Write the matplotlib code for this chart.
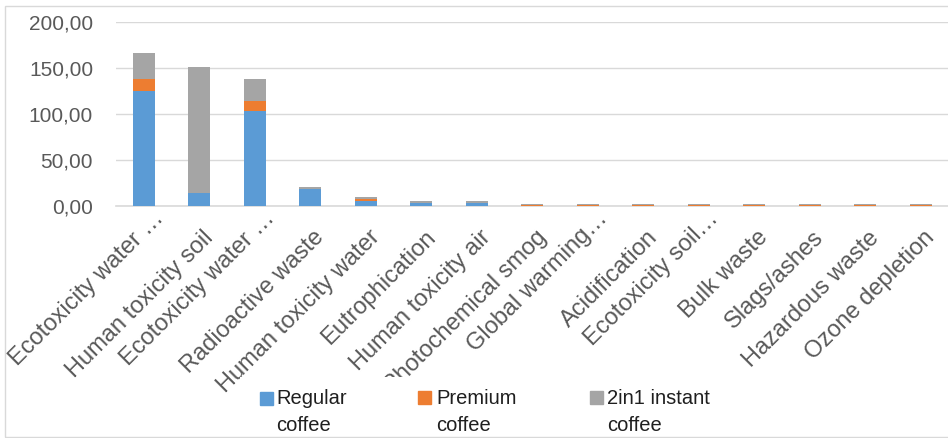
#!/usr/bin/env python3

import matplotlib

matplotlib.use("Agg")

import matplotlib.pyplot as plt
import matplotlib.transforms as mtransforms
from matplotlib.patches import Rectangle
from matplotlib.ticker import FuncFormatter, MultipleLocator
import numpy as np


CATEGORIES = [
    "Ecotoxicity water …",
    "Human toxicity soil",
    "Ecotoxicity water …",
    "Radioactive waste",
    "Human toxicity water",
    "Eutrophication",
    "Human toxicity air",
    "Photochemical smog",
    "Global warming…",
    "Acidification",
    "Ecotoxicity soil…",
    "Bulk waste",
    "Slags/ashes",
    "Hazardous waste",
    "Ozone depletion",
]

REGULAR = [125.0, 13.5, 103.0, 18.0, 4.8, 3.0, 3.0,
           0.2, 0.2, 0.2, 0.2, 0.2, 0.2, 0.2, 0.2]
PREMIUM = [13.0, 0.3, 11.0, 0.3, 2.5, 0.2, 0.2,
           0.05, 0.05, 0.05, 0.05, 0.05, 0.05, 0.05, 0.05]
INSTANT = [28.5, 137.5, 24.0, 2.0, 1.9, 1.6, 1.6,
           2.0, 2.0, 2.0, 2.0, 2.0, 2.0, 2.0, 2.0]

SERIES_NAMES = ["Regular\ncoffee", "Premium\ncoffee", "2in1 instant\ncoffee"]
SERIES_COLORS = ["#5B9BD5", "#ED7D31", "#A5A5A5"]

W, H = 948, 438


def fx(px):
    return px / W


def fy(py):
    return 1 - py / H


def main() -> None:
    plt.rcParams["font.family"] = ["Liberation Sans", "DejaVu Sans"]

    fig = plt.figure(figsize=(W / 100, H / 100), dpi=100)
    fig.patch.set_facecolor("white")

    # light frame around the chart, cut off on the right like the source
    fig.patches.append(
        Rectangle(
            (fx(5), fy(437)), 1.2, (437 - 6) / H,
            transform=fig.transFigure, fill=False,
            edgecolor="#D9D9D9", linewidth=1.0,
        )
    )

    ax = fig.add_axes([fx(116), fy(205.7), 832.5 / W, 183.7 / H])

    x = np.arange(len(CATEGORIES))
    bottom = np.zeros(len(CATEGORIES))
    for values, color in zip([REGULAR, PREMIUM, INSTANT], SERIES_COLORS):
        ax.bar(x, values, width=0.39, bottom=bottom, color=color,
               linewidth=0, zorder=3)
        bottom += np.array(values)

    ax.set_xlim(-0.5, len(CATEGORIES) - 0.5)
    ax.set_ylim(0, 200)
    ax.yaxis.set_major_locator(MultipleLocator(50))
    ax.yaxis.set_major_formatter(
        FuncFormatter(lambda v, _: f"{v:.2f}".replace(".", ","))
    )
    ax.grid(axis="y", color="#D9D9D9", linewidth=1.0, zorder=0)

    for side in ["top", "right", "left"]:
        ax.spines[side].set_visible(False)
    ax.spines["bottom"].set_color("#D9D9D9")
    ax.spines["bottom"].set_linewidth(1.2)

    ax.tick_params(axis="both", length=0, labelcolor="#595959")
    ax.tick_params(axis="y", pad=16.5, labelsize=15)
    ax.tick_params(axis="x", pad=15, labelsize=17)

    ax.set_xticks(x)
    ax.set_xticklabels(CATEGORIES, rotation=45, ha="right", va="top",
                       rotation_mode="anchor")

    # Excel places the shortened labels a bit higher than the full ones
    for label in ax.get_xticklabels():
        if label.get_text().endswith("…"):
            dx, dy = 9, 19
        else:
            dx, dy = 3, 0
        label.set_transform(
            label.get_transform()
            + mtransforms.ScaledTranslation(dx / 100, dy / 100,
                                            fig.dpi_scale_trans)
        )

    # white legend box sits over the ends of the long labels
    fig.patches.append(
        Rectangle((fx(240), fy(435)), (735 - 240) / W, (435 - 377) / H,
                  transform=fig.transFigure, facecolor="white",
                  edgecolor="none", zorder=5)
    )

    # legend drawn by hand so the swatches line up with the first text line
    legend_swatches = [(260, 392), (418, 391), (590, 391)]
    legend_texts = [276, 436, 607]
    for name, color, (sx, sy), tx in zip(
        SERIES_NAMES, SERIES_COLORS, legend_swatches, legend_texts
    ):
        fig.patches.append(
            Rectangle((fx(sx), fy(sy + 13)), 13 / W, 13 / H,
                      transform=fig.transFigure, color=color, zorder=6)
        )
        fig.text(fx(tx), fy(389), name, ha="left", va="top",
                 fontsize=14.5, color="#1F1F1F", linespacing=1.55,
                 zorder=6)

    fig.savefig("out.png", dpi=100, facecolor="white")
    plt.close(fig)


if __name__ == "__main__":
    main()
